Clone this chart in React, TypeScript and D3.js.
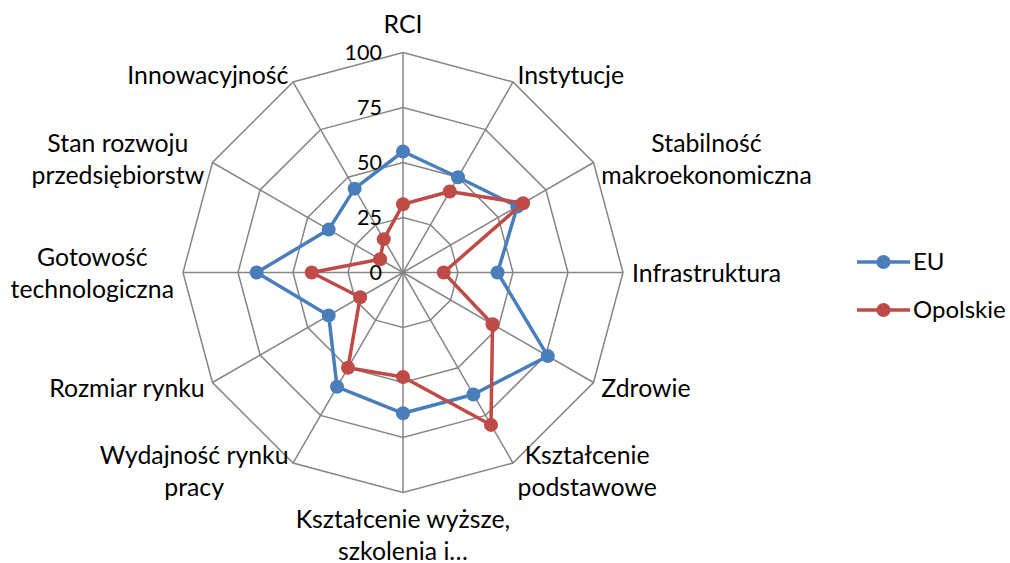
import React, { useEffect, useRef } from "react";
import * as d3 from "d3";

const categories = [
  ["RCI"],
  ["Instytucje"],
  ["Stabilność", "makroekonomiczna"],
  ["Infrastruktura"],
  ["Zdrowie"],
  ["Kształcenie", "podstawowe"],
  ["Kształcenie wyższe,", "szkolenia i…"],
  ["Wydajność rynku", "pracy"],
  ["Rozmiar rynku"],
  ["Gotowość", "technologiczna"],
  ["Stan rozwoju", "przedsiębiorstw"],
  ["Innowacyjność"],
];

const euValues = [55, 50, 60, 43, 76, 64, 64, 60, 39, 66.5, 39, 44];
const opolskieValues = [31, 42.5, 63, 18.5, 47, 80, 47.5, 50, 22.5, 41.5, 12, 17.5];

const ticks = [0, 25, 50, 75, 100];

const seriesList = [
  { name: "EU", values: euValues, color: "#4A7EBB" },
  { name: "Opolskie", values: opolskieValues, color: "#BE4B48" },
];

const App = () => {
  const svgRef = useRef<SVGSVGElement>(null);

  useEffect(() => {
    document.body.style.margin = "0";
    const width = 1010;
    const height = 563;
    const cx = 403;
    const cy = 272.5;
    const radius = 220;
    const fontFamily = "Lato, Carlito, 'Open Sans', sans-serif";

    const svg = d3.select(svgRef.current);
    svg.selectAll("*").remove();
    svg.attr("width", width).attr("height", height);

    const g = svg.append("g").attr("transform", `translate(${cx},${cy})`);

    const n = categories.length;
    const angle = d3.scaleLinear().domain([0, n]).range([0, 2 * Math.PI]);
    const r = d3.scaleLinear().domain([0, 100]).range([0, radius]);

    const pt = (i, v) => {
      const a = angle(i);
      return [r(v) * Math.sin(a), -r(v) * Math.cos(a)];
    };

    // grid rings
    ticks.slice(1).forEach(t => {
      g.append("path")
        .attr("d", d3.line()(d3.range(n).map(i => pt(i, t))) + "Z")
        .attr("fill", "none")
        .attr("stroke", "#868686")
        .attr("stroke-width", 1.5);
    });

    // spokes
    d3.range(n).forEach(i => {
      const [x, y] = pt(i, 100);
      g.append("line")
        .attr("x1", 0).attr("y1", 0)
        .attr("x2", x).attr("y2", y)
        .attr("stroke", "#868686")
        .attr("stroke-width", 1.5);
    });

    // tick labels
    ticks.forEach(t => {
      g.append("text")
        .attr("x", -21)
        .attr("y", -r(t))
        .attr("dy", "0.35em")
        .attr("text-anchor", "end")
        .style("font-family", fontFamily)
        .style("font-size", "21.5px")
        .attr("fill", "#000")
        .text(t);
    });

    // series
    const line = d3.line().curve(d3.curveLinearClosed);
    seriesList.forEach(s => {
      const pts = s.values.map((v, i) => pt(i, v));
      g.append("path")
        .attr("d", line(pts))
        .attr("fill", "none")
        .attr("stroke", s.color)
        .attr("stroke-width", 3.5)
        .attr("stroke-linejoin", "round");
      g.selectAll(null)
        .data(pts)
        .enter()
        .append("circle")
        .attr("cx", d => d[0])
        .attr("cy", d => d[1])
        .attr("r", 7)
        .attr("fill", s.color);
    });

    // category labels
    const lineH = 32;
    categories.forEach((lines, i) => {
      const a = angle(i);
      const s = Math.sin(a);
      const c = Math.cos(a);
      const [px, py] = pt(i, 100 + 9 / radius * 100);
      const text = g.append("text")
        .attr("text-anchor", "middle")
        .style("font-family", fontFamily)
        .style("font-size", "24.8px")
        .attr("fill", "#000");
      lines.forEach((l, k) => {
        text.append("tspan").attr("x", 0).attr("y", k * lineH).text(l);
      });
      const bb = (text.node() as SVGTextElement).getBBox();
      let tx = px - (bb.x + bb.width / 2);
      if (s > 0.01) tx = px - bb.x;
      else if (s < -0.01) tx = px - (bb.x + bb.width);
      let ty;
      if (c > 0.99) ty = py - 6 - (bb.y + bb.height);
      else if (c < -0.99) ty = py + 2 - bb.y;
      else ty = py - (bb.y + bb.height / 2);
      text.attr("transform", `translate(${tx},${ty})`);
    });

    // legend
    const legend = svg.append("g").attr("transform", "translate(857,262)");
    seriesList.forEach((s, k) => {
      const lg = legend.append("g").attr("transform", `translate(0,${k * 48})`);
      lg.append("line")
        .attr("x1", 0).attr("x2", 53)
        .attr("y1", 0).attr("y2", 0)
        .attr("stroke", s.color)
        .attr("stroke-width", 3.5);
      lg.append("circle").attr("cx", 26.5).attr("cy", 0).attr("r", 7).attr("fill", s.color);
      lg.append("text")
        .attr("x", 56)
        .attr("y", 0)
        .attr("dy", "0.35em")
        .style("font-family", fontFamily)
        .style("font-size", "24px")
        .attr("fill", "#000")
        .text(s.name);
    });
  }, []);

  return <svg ref={svgRef} style={{ display: "block" }}></svg>;
};

export default App;
